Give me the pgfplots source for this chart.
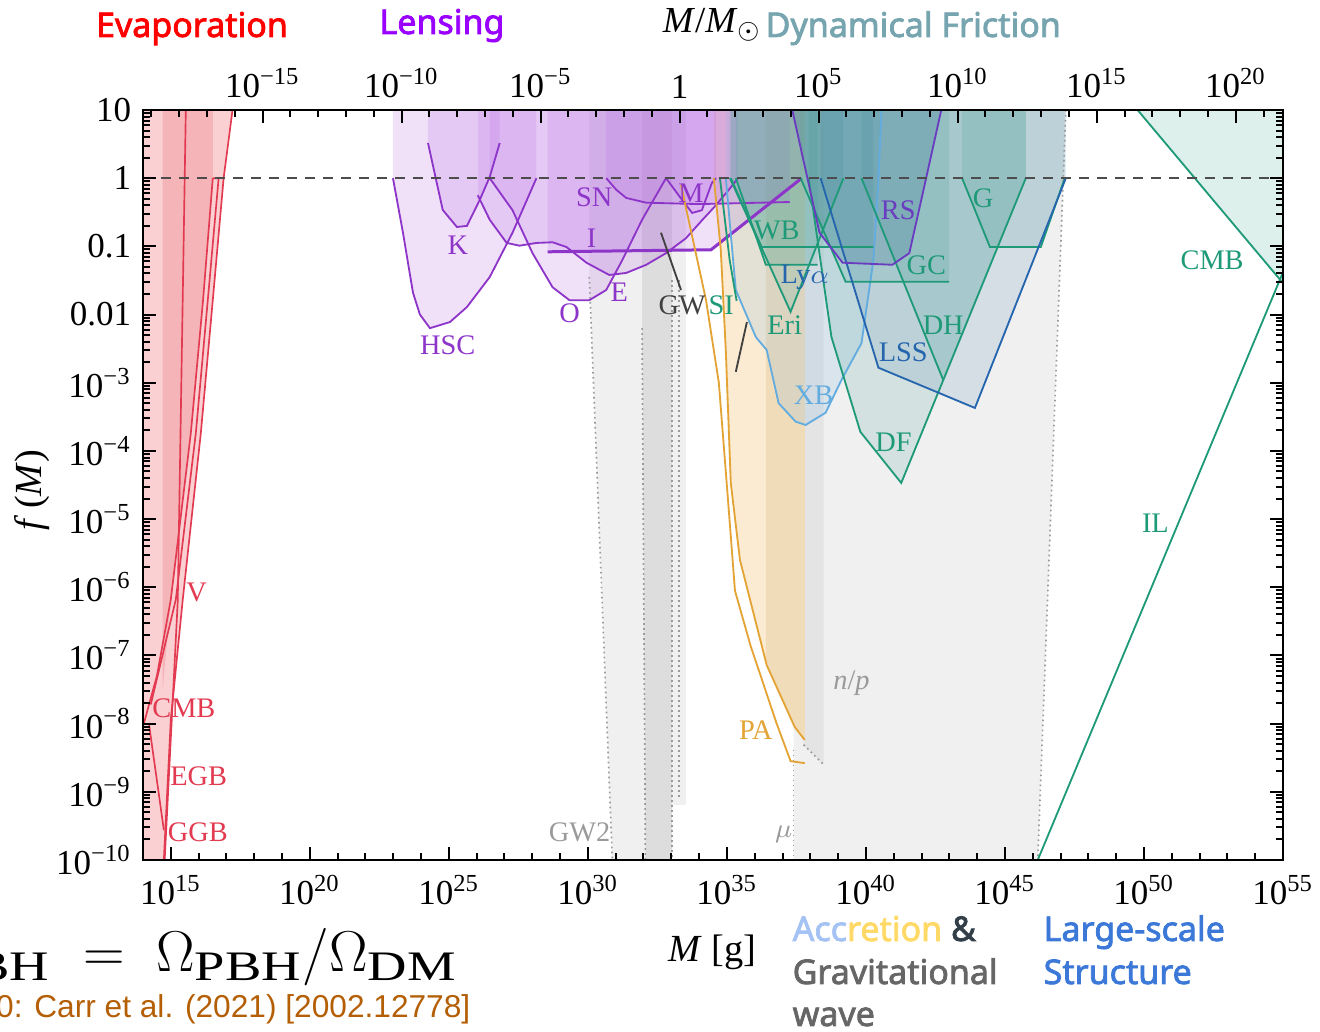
\documentclass[border=0pt]{standalone}
\usepackage{pgfplots}
\pgfplotsset{compat=1.18}
\usepackage{fontspec}
\setmainfont{Liberation Serif}
\newfontfamily\hsans[AutoFakeBold=2.2]{Noto Sans}
\newfontfamily\arial{Liberation Sans}
\definecolor{evR}{HTML}{E23A50}
\definecolor{evF1}{HTML}{FAD0D2}
\definecolor{evF2}{HTML}{F4A9AD}
\definecolor{lensL}{HTML}{8E35C9}
\definecolor{lensF}{HTML}{B66AE3}
\definecolor{grnL}{HTML}{1F9A78}
\definecolor{grnF}{HTML}{3C9F8F}
\definecolor{bluL}{HTML}{2565AE}
\definecolor{bluF}{HTML}{3A72A8}
\definecolor{xbL}{HTML}{63ACDF}
\definecolor{xbF}{HTML}{80B8E0}
\definecolor{rsL}{HTML}{6A3CC0}
\definecolor{rsF}{HTML}{2D6A90}
\definecolor{paL}{HTML}{E3A335}
\definecolor{paF1}{HTML}{FCEBD3}
\definecolor{paF2}{HTML}{F1DCBA}
\definecolor{gy1}{HTML}{F0F0F0}
\definecolor{gy2}{HTML}{E4E4E4}
\definecolor{gy3}{HTML}{DDDDDD}
\definecolor{gyL}{HTML}{9A9A9A}
\definecolor{cmbF}{HTML}{DDF0EB}
\definecolor{tEvap}{HTML}{FF0000}
\definecolor{tLens}{HTML}{9900FF}
\definecolor{tDyn}{HTML}{76A5AF}
\definecolor{tAccB}{HTML}{A4C2F4}
\definecolor{tAccY}{HTML}{FFD966}
\definecolor{tAmp}{HTML}{333F48}
\definecolor{tGW}{HTML}{666666}
\definecolor{tLSS}{HTML}{3C78D8}
\definecolor{tCarr}{HTML}{B45F06}
\newcommand\tp[1]{10\textsuperscript{#1}}
\newcommand\lbl{\fontsize{8.5}{10}\selectfont}
\newcommand\hd{\hsans\bfseries\fontsize{10.2}{12}\selectfont}
\newcommand\wsub[1]{\scalebox{1.3}[1]{$\scriptstyle\mathrm{#1}$}}
\def\myminor{-10}
\foreach \d in {-10,...,0}{\foreach \k in {2,...,9}{\pgfmathparse{\d+log10(\k)}\xdef\myminor{\myminor,\pgfmathresult}}}
\begin{document}
\begin{tikzpicture}
\path[use as bounding box] (-42.9pt,258pt) rectangle (353.1pt,-51.6pt);
\begin{axis}[name=ax, at={(0,0)}, anchor=south west, scale only axis,
  width=342pt, height=225pt, xmin=14, xmax=55, ymin=-10, ymax=1,
  axis on top, clip=true,
  xtick={15,20,...,55},
  xticklabels={\tp{15},\tp{20},\tp{25},\tp{30},\tp{35},\tp{40},\tp{45},\tp{50},\tp{55}},
  minor xtick={14,...,55},
  ytick={-10,...,1},
  yticklabels={\tp{−10},\tp{−9},\tp{−8},\tp{−7},\tp{−6},\tp{−5},\tp{−4},\tp{−3},0.01,0.1,1,10},
  minor ytick/.expand once={\myminor},
  xtick pos=left, ytick pos=both, yticklabel pos=left,
  tick align=inside, major tick length=4pt, minor tick length=2pt,
  tick style={black, line width=0.6pt}, axis line style={line width=0.8pt},
  ticklabel style={font=\fontsize{10.5}{12}\selectfont},
  xticklabel style={yshift=-1pt},
]
% ---- gray (GW / mu / n-p) and accretion bands
\addplot[draw=none, fill=gy1] coordinates {(37.40,1) (37.40,-10) (46.18,-10) (47.19,1)} -- cycle;
\addplot[draw=none, fill=gy2] coordinates {(37.76,1) (37.76,-8.31) (38.48,-8.60) (38.48,1)} -- cycle;
\addplot[draw=none, fill=gy1] coordinates {(30.05,1) (30.05,-1.45) (30.88,-10) (32.07,-10) (31.95,-2.2) (31.95,1)} -- cycle;
\addplot[draw=none, fill=gy3] coordinates {(31.95,1) (31.95,-2.2) (32.07,-10) (33.03,-10) (33.03,1)} -- cycle;
\addplot[draw=none, fill=gy1] coordinates {(33.03,1) (33.03,-9.2) (33.53,-9.2) (33.53,1)} -- cycle;
\addplot[draw=none, fill=paF1] coordinates {(34.53,1) (34.53,0) (34.78,-1.05) (34.96,-2.52) (35.14,-4.47) (35.47,-5.60) (36.43,-7.14) (37.44,-8.05) (37.80,-8.24) (37.80,1)} -- cycle;
\addplot[draw=none, fill=paF2] coordinates {(36.40,1) (36.40,-7.1) (36.43,-7.14) (37.44,-8.05) (37.80,-8.24) (37.80,1)} -- cycle;
% ---- evaporation fills
\addplot[draw=none, fill=evF1] coordinates {(14,1) (17.22,1) (16.90,0) (16.51,-1.79) (16.08,-3.74) (15.43,-6.18) (15.0,-7.94) (14.75,-10) (14,-10)} -- cycle;
\addplot[draw=none, fill=evF2, fill opacity=0.7] coordinates {(14.71,1) (16.51,1) (16.51,0) (16.16,-1.79) (15.72,-3.74) (15.0,-6.18) (14.71,-7.5)} -- cycle;
% ---- lensing fills
\addplot[draw=none, fill=lensF, fill opacity=0.2] coordinates {(22.99,1) (22.99,0) (23.35,-0.80) (23.71,-1.68) (23.96,-2.0) (24.32,-2.20) (25.04,-2.11) (25.65,-1.89) (26.47,-1.45) (27.29,-0.80) (28.15,0) (28.15,1)} -- cycle;
\addplot[draw=none, fill=lensF, fill opacity=0.2] coordinates {(24.25,1) (24.25,0.516) (24.78,-0.466) (25.29,-0.716) (25.65,-0.70) (26.11,-0.32) (26.47,0.018) (26.83,0.516) (26.83,1)} -- cycle;
\addplot[draw=none, fill=lensF, fill opacity=0.2] coordinates {(26.04,1) (26.04,-0.25) (26.47,-0.61) (27.08,-0.95) (27.54,-0.99) (28.15,-0.95) (28.73,-0.94) (29.23,-1.01) (29.95,-1.24) (30.77,-1.42) (31.38,-1.39) (32.10,-1.27) (32.81,-1.10) (33.53,-0.88) (34.10,-0.62) (34.60,-0.40) (35.07,-0.17) (35.40,0) (35.40,1)} -- cycle;
\addplot[draw=none, fill=lensF, fill opacity=0.2] coordinates {(26.47,1) (26.47,0) (27.29,-0.47) (28.01,-1.10) (28.73,-1.60) (29.34,-1.79) (30.05,-1.79) (30.66,-1.64) (31.24,-1.20) (31.95,-0.61) (32.81,0) (32.81,1)} -- cycle;
\addplot[draw=none, fill=lensF, fill opacity=0.2] coordinates {(30.66,1) (30.66,0) (31.02,-0.17) (31.38,-0.29) (32.10,-0.36) (34.0,-0.38) (37.26,-0.35) (37.26,1)} -- cycle;
\addplot[draw=none, fill=lensF, fill opacity=0.2] coordinates {(28.55,1) (28.55,-1.08) (34.43,-1.05) (37.69,0) (37.69,1)} -- cycle;
\addplot[draw=none, fill=lensF, fill opacity=0.2] coordinates {(32.81,1) (32.81,0) (33.39,-0.32) (33.75,-0.51) (34.10,-0.47) (34.46,-0.07) (34.61,0) (34.61,1)} -- cycle;
% ---- dynamical friction / LSS fills
\addplot[draw=none, fill=xbF, fill opacity=0.2] coordinates {(34.96,1) (34.96,0) (35.32,-1.64) (36.04,-2.33) (36.43,-2.52) (36.86,-3.30) (37.47,-3.57) (37.83,-3.62) (38.55,-3.44) (39.12,-2.96) (39.84,-2.42) (40.27,-1.20) (40.45,-0.03) (40.56,1)} -- cycle;
\addplot[draw=none, fill=grnF, fill opacity=0.16] coordinates {(35.14,1) (35.14,0) (36.25,-1.01) (40.27,-1.01) (40.27,1)} -- cycle;
\addplot[draw=none, fill=grnF, fill opacity=0.16] coordinates {(35.32,1) (35.32,0) (36.40,-1.27) (38.26,-1.27) (38.26,1)} -- cycle;
\addplot[draw=none, fill=grnF, fill opacity=0.16] coordinates {(35.11,1) (35.11,0) (37.29,-1.96) (39.19,0) (39.19,1)} -- cycle;
\addplot[draw=none, fill=grnF, fill opacity=0.16] coordinates {(37.65,1) (37.65,0) (39.27,-1.52) (42.99,-1.52) (42.99,1)} -- cycle;
\addplot[draw=none, fill=grnF, fill opacity=0.16] coordinates {(43.46,1) (43.46,0) (44.46,-1.01) (46.29,-1.01) (47.15,0) (47.15,1)} -- cycle;
\addplot[draw=none, fill=grnF, fill opacity=0.16] coordinates {(39.84,1) (39.84,0) (42.78,-2.96) (45.75,0) (45.75,1)} -- cycle;
\addplot[draw=none, fill=grnF, fill opacity=0.16] coordinates {(37.94,1) (37.94,0) (38.76,-2.33) (39.80,-3.72) (41.27,-4.47) (45.75,0) (45.75,1)} -- cycle;
\addplot[draw=none, fill=bluF, fill opacity=0.14] coordinates {(38.37,1) (38.37,0) (40.45,-2.78) (43.92,-3.37) (47.19,0) (47.19,1)} -- cycle;
\addplot[draw=none, fill=rsF, fill opacity=0.22] coordinates {(37.33,1) (38.33,-0.80) (39.16,-1.24) (40.95,-1.27) (41.56,-1.10) (41.99,-0.32) (42.71,1)} -- cycle;
\addplot[draw=none, fill=cmbF] coordinates {(49.77,1) (55,1) (55,-1.54)} -- cycle;
% ---- dotted boundaries
\addplot[gyL, densely dotted, line width=0.5pt] coordinates {(30.05,-1.45) (30.88,-10)};
\addplot[gyL, densely dotted, line width=0.5pt] coordinates {(31.95,-2.2) (32.07,-10)};
\addplot[gyL, densely dotted, line width=0.5pt] coordinates {(33.03,-1.5) (33.03,-10)};
\addplot[gyL, densely dotted, line width=0.5pt] coordinates {(33.28,-1.5) (33.28,-9.1)};
\addplot[gyL, densely dotted, line width=0.5pt] coordinates {(37.40,-8.38) (37.40,-10)};
\addplot[gyL, densely dotted, line width=0.5pt] coordinates {(37.76,-8.31) (38.48,-8.60)};
\addplot[gyL, densely dotted, line width=0.5pt] coordinates {(47.19,1) (46.18,-10)};
% ---- evaporation lines
\addplot[evR, line width=0.5pt] coordinates {(15.54,1) (15.25,-6.2) (14.78,-10)};
\addplot[evR, line width=0.5pt] coordinates {(17.22,1) (16.90,0) (16.51,-1.79) (16.08,-3.74) (15.43,-6.18) (15.0,-7.94) (14.75,-10)};
\addplot[evR, line width=0.5pt] coordinates {(16.51,0) (16.72,0) (16.33,-1.79) (15.90,-3.74) (15.18,-6.18) (14.28,-7.72)};
\addplot[evR, line width=0.5pt] coordinates {(16.51,0) (16.16,-1.79) (15.72,-3.74) (15.0,-6.18) (14.5,-7.3) (14.03,-8.0)};
\addplot[evR, line width=0.5pt] coordinates {(14.21,-7.99) (14.75,-9.56)};
% ---- lensing lines
\addplot[lensL, line width=0.55pt] coordinates {(22.99,0) (23.35,-0.80) (23.71,-1.68) (23.96,-2.0) (24.32,-2.20) (25.04,-2.11) (25.65,-1.89) (26.47,-1.45) (27.29,-0.80) (28.15,0)};
\addplot[lensL, line width=0.55pt] coordinates {(24.25,0.516) (24.78,-0.466) (25.29,-0.716) (25.65,-0.70) (26.11,-0.32) (26.47,0.018) (26.83,0.516)};
\addplot[lensL, line width=0.55pt] coordinates {(26.04,-0.25) (26.47,-0.61) (27.08,-0.95) (27.54,-0.99) (28.15,-0.95) (28.73,-0.94) (29.23,-1.01) (29.95,-1.24) (30.77,-1.42) (31.38,-1.39) (32.10,-1.27) (32.81,-1.10) (33.53,-0.88) (34.10,-0.62) (34.60,-0.40) (35.07,-0.17) (35.40,0)};
\addplot[lensL, line width=0.55pt] coordinates {(26.47,0) (27.29,-0.47) (28.01,-1.10) (28.73,-1.60) (29.34,-1.79) (30.05,-1.79) (30.66,-1.64) (31.24,-1.20) (31.95,-0.61) (32.81,0)};
\addplot[lensL, line width=0.55pt] coordinates {(30.66,0) (31.02,-0.17) (31.38,-0.29) (32.10,-0.36) (34.0,-0.38) (37.26,-0.35)};
\addplot[lensL, line width=0.9pt] coordinates {(28.55,-1.08) (34.43,-1.05) (37.69,0)};
\addplot[lensL, line width=0.55pt] coordinates {(32.81,0) (33.39,-0.32) (33.75,-0.51) (34.10,-0.47) (34.46,-0.07) (34.61,0)};
% ---- GW lines
\addplot[black!75, line width=0.55pt] coordinates {(32.63,-0.80) (33.35,-1.64)};
\addplot[black!75, line width=0.55pt] coordinates {(35.72,-2.11) (35.32,-2.84)};
% ---- accretion lines
\addplot[paL, line width=0.55pt] coordinates {(33.35,-0.1) (34.25,-1.79) (34.71,-3.0) (35.04,-4.72) (35.29,-6.05) (35.86,-6.87) (36.29,-7.39) (36.79,-8.0) (37.29,-8.55) (37.80,-8.58)};
\addplot[paL, line width=0.55pt] coordinates {(34.53,0) (34.78,-1.05) (34.96,-2.52) (35.14,-4.47) (35.47,-5.60) (36.43,-7.14) (37.44,-8.05) (37.80,-8.24)};
% ---- dynamical friction / LSS lines
\addplot[xbL, line width=0.55pt] coordinates {(34.96,0) (35.32,-1.64) (36.04,-2.33) (36.43,-2.52) (36.86,-3.30) (37.47,-3.57) (37.83,-3.62) (38.55,-3.44) (39.12,-2.96) (39.84,-2.42) (40.27,-1.20) (40.45,-0.03) (40.56,1)};
\addplot[grnL, line width=0.55pt] coordinates {(34.75,0) (35.1,-1.2) (35.35,-1.8)};
\addplot[grnL, line width=0.55pt] coordinates {(35.14,0) (36.25,-1.01) (40.27,-1.01)};
\addplot[grnL, line width=0.55pt] coordinates {(35.32,0) (36.40,-1.27) (38.26,-1.27)};
\addplot[grnL, line width=0.55pt] coordinates {(35.11,0) (37.29,-1.96) (39.19,0)};
\addplot[grnL, line width=0.55pt] coordinates {(37.65,0) (39.27,-1.52) (42.99,-1.52)};
\addplot[grnL, line width=0.55pt] coordinates {(43.46,0) (44.46,-1.01) (46.29,-1.01) (47.15,0)};
\addplot[grnL, line width=0.55pt] coordinates {(39.84,0) (42.78,-2.96)};
\addplot[grnL, line width=0.55pt] coordinates {(37.94,0) (38.76,-2.33) (39.80,-3.72) (41.27,-4.47) (45.75,0)};
\addplot[bluL, line width=0.55pt] coordinates {(38.37,0) (40.45,-2.78) (43.92,-3.37) (47.19,0)};
\addplot[rsL, line width=0.55pt] coordinates {(37.33,1.04) (38.33,-0.80) (39.16,-1.24) (40.95,-1.27) (41.56,-1.10) (41.99,-0.32) (42.71,1)};
\addplot[grnL, line width=0.55pt] coordinates {(49.77,1) (55,-1.54)};
\addplot[grnL, line width=0.55pt] coordinates {(46.18,-10) (55,-1.38)};
% ---- f = 1 line
\addplot[black!70, line width=0.7pt, dash pattern=on 3pt off 2.4pt] coordinates {(14,0) (55,0)};
% ---- labels
\node[text=evR, font=\lbl] at (15.93,-6.07) {V};
\node[text=evR, font=\lbl] at (15.47,-7.77) {CMB};
\node[text=evR, font=\lbl] at (16.0,-8.77) {EGB};
\node[text=evR, font=\lbl] at (15.97,-9.60) {GGB};
\node[text=lensL, font=\lbl] at (24.96,-2.45) {HSC};
\node[text=lensL, font=\lbl] at (25.32,-0.98) {K};
\node[text=lensL, font=\lbl] at (30.23,-0.28) {SN};
\node[text=lensL, font=\lbl] at (30.13,-0.88) {I};
\node[text=lensL, font=\lbl] at (29.34,-1.98) {O};
\node[text=lensL, font=\lbl] at (31.13,-1.67) {E};
\node[text=lensL, font=\lbl] at (33.71,-0.22) {M};
\node[text=rsL, font=\lbl] at (41.16,-0.47) {RS};
\node[text=black!75, font=\lbl] at (33.39,-1.86) {GW};
\node[text=grnL, font=\lbl] at (34.80,-1.86) {SI};
\node[text=grnL, font=\lbl] at (36.79,-0.76) {WB};
\node[text=bluL, font=\lbl] at (37.80,-1.46) {Ly$\alpha$};
\node[text=grnL, font=\lbl] at (37.08,-2.15) {Eri};
\node[text=xbL, font=\lbl] at (38.12,-3.18) {XB};
\node[text=grnL, font=\lbl] at (42.17,-1.27) {GC};
\node[text=grnL, font=\lbl] at (44.21,-0.29) {G};
\node[text=grnL, font=\lbl] at (42.78,-2.15) {DH};
\node[text=bluL, font=\lbl] at (41.34,-2.56) {LSS};
\node[text=grnL, font=\lbl] at (40.99,-3.88) {DF};
\node[text=grnL, font=\lbl] at (52.45,-1.20) {CMB};
\node[text=grnL, font=\lbl] at (50.41,-5.06) {IL};
\node[text=paL, font=\lbl] at (36.04,-8.09) {PA};
\node[text=gyL, font=\lbl] at (37.04,-9.63) {$\mu$};
\node[text=gyL, font=\lbl] at (39.48,-7.40) {\textit{n}/\textit{p}};
\node[text=gyL, font=\lbl] at (29.70,-9.60) {GW2};
\end{axis}
\begin{axis}[at={(0,0)}, anchor=south west, scale only axis,
  width=342pt, height=225pt, xmin=-19.3, xmax=21.7, ymin=-10, ymax=1,
  axis x line*=top, hide y axis,
  xtick={-15,-10,...,20},
  xticklabels={\tp{−15},\tp{−10},\tp{−5},1,\tp{5},\tp{10},\tp{15},\tp{20}},
  minor xtick={-19,...,21},
  tick align=inside, major tick length=4pt, minor tick length=2pt,
  tick style={black, line width=0.6pt}, axis line style={line width=0.8pt},
  ticklabel style={font=\fontsize{10.5}{12}\selectfont},
]
\addplot[draw=none] coordinates {(0,0)};
\end{axis}
\begin{scope}[x=0.3pt, y=-0.3pt, shift={(-143,-860)}, every node/.style={inner sep=0pt}]
\node[anchor=base, text=tEvap, font=\hd] at (192,37) {Evaporation};
\node[anchor=base, text=tLens, font=\hd] at (442,34) {Lensing};
\node[anchor=base, font=\fontsize{11}{13}\selectfont] at (712,33) {\textit{M}/\textit{M}$_\odot$};
\node[anchor=base west, text=tDyn, font=\hd] at (765,37) {Dynamical Friction};
\node[anchor=base west, font=\hd] at (792,941) {\textcolor{tAccB}{Acc}\textcolor{tAccY}{retion} \textcolor{tAmp}{\&}};
\node[anchor=base west, text=tGW, font=\hd] at (792,984) {Gravitational};
\node[anchor=base west, text=tGW, font=\hd] at (792,1026) {wave};
\node[anchor=base west, text=tLSS, font=\hd] at (1043,941) {Large-scale};
\node[anchor=base west, text=tLSS, font=\hd] at (1043,984) {Structure};
\node[anchor=base, font=\fontsize{11.5}{13}\selectfont] at (712,962) {\textit{M} [g]};
\node[anchor=base, rotate=90, font=\fontsize{11.5}{13}\selectfont] at (42,490) {\textit{f}\,(\textit{M})};
\node[anchor=base east, font=\fontsize{18}{20}\selectfont] at (458,972) {$f_{\wsub{PBH}} \mathrel{\;=\;} \Omega_{\wsub{PBH}}/\Omega_{\wsub{DM}}$};
\node[anchor=base east, text=tCarr, font=\arial\fontsize{9.5}{11}\selectfont] at (471,1018) {Fig.~10: Carr et al. (2021) [2002.12778]};
\end{scope}
\end{tikzpicture}
\end{document}
